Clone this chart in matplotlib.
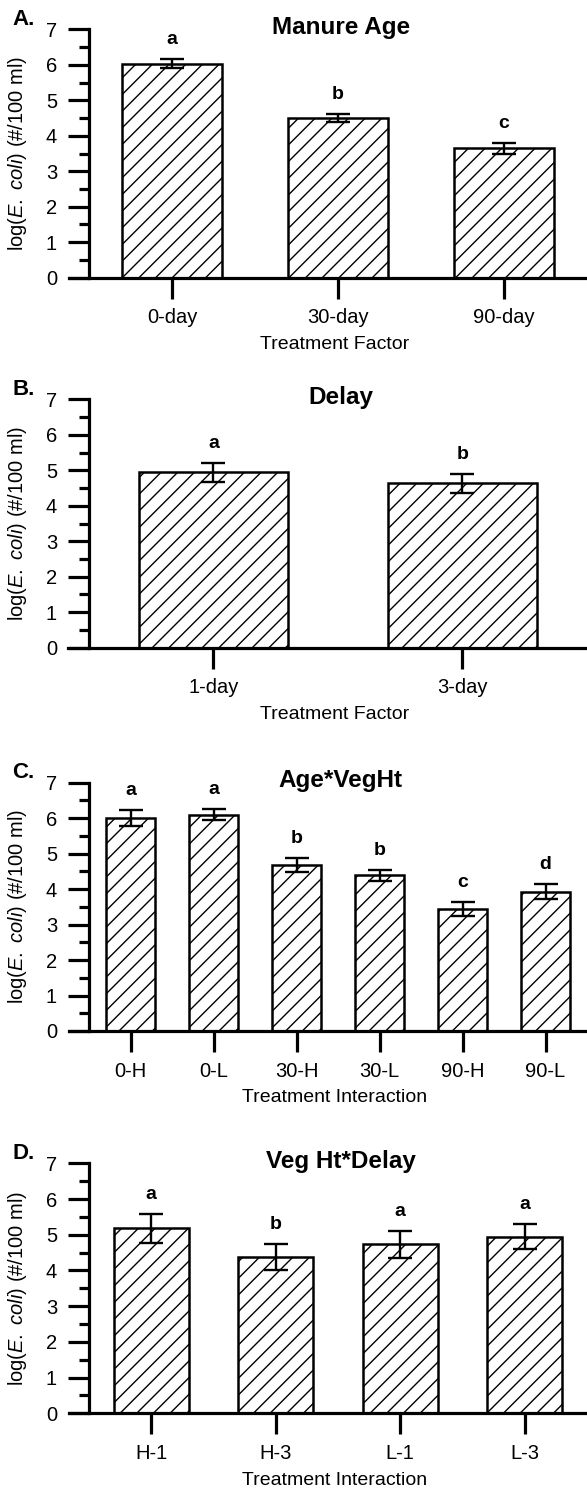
import matplotlib.pyplot as plt
from matplotlib.ticker import MultipleLocator

plt.rcParams['font.family'] = ['Liberation Sans', 'DejaVu Sans']
plt.rcParams['mathtext.fontset'] = 'custom'
plt.rcParams['mathtext.rm'] = 'Liberation Sans'
plt.rcParams['mathtext.it'] = 'Liberation Sans:italic'
plt.rcParams['hatch.linewidth'] = 1.0

# A. Manure Age
age_cats = ['0-day', '30-day', '90-day']
age_means = [6.03, 4.50, 3.65]
age_err = [0.13, 0.12, 0.15]
age_letters = ['a', 'b', 'c']

# B. Delay
delay_cats = ['1-day', '3-day']
delay_means = [4.94, 4.63]
delay_err = [0.27, 0.26]
delay_letters = ['a', 'b']

# C. Age*VegHt
agev_cats = ['0-H', '0-L', '30-H', '30-L', '90-H', '90-L']
agev_means = [6.00, 6.10, 4.68, 4.39, 3.43, 3.93]
agev_err = [0.22, 0.15, 0.19, 0.15, 0.20, 0.21]
agev_letters = ['a', 'a', 'b', 'b', 'c', 'd']

# D. Veg Ht*Delay
vegd_cats = ['H-1', 'H-3', 'L-1', 'L-3']
vegd_means = [5.18, 4.38, 4.73, 4.94]
vegd_err = [0.40, 0.36, 0.37, 0.35]
vegd_letters = ['a', 'b', 'a', 'a']

W, H = 587, 1488
fig = plt.figure(figsize=(W / 100, H / 100), dpi=100)

# pixel layout (top, bottom of the y axis) for each panel
panels = [
    ('A.', 'Manure Age', 'Treatment Factor', age_cats, age_means, age_err, age_letters, 29.3, 277.7),
    ('B.', 'Delay', 'Treatment Factor', delay_cats, delay_means, delay_err, delay_letters, 399.3, 647.7),
    ('C.', 'Age*VegHt', 'Treatment Interaction', agev_cats, agev_means, agev_err, agev_letters, 782.7, 1031.0),
    ('D.', 'Veg Ht*Delay', 'Treatment Interaction', vegd_cats, vegd_means, vegd_err, vegd_letters, 1163.3, 1413.3),
]

x_left, x_axis, x_right = 68.5, 89.0, 587.0
lw = 2.3

for tag, title, xlab, cats, means, errs, letters, top, bottom in panels:
    ax = fig.add_axes([x_left / W, 1 - bottom / H, (x_right - x_left) / W, (bottom - top) / H])
    n = len(cats)
    step = (x_right - x_axis) / n
    xs = list(range(n))
    ax.bar(xs, means, width=0.6, color='white', edgecolor='black', linewidth=1.8, hatch='//', zorder=2)
    ax.errorbar(xs, means, yerr=errs, fmt='none', ecolor='black', elinewidth=1.7,
                capsize=8.5, capthick=1.7, zorder=3)
    for x, m, e, t in zip(xs, means, errs, letters):
        ax.annotate(t, (x, m + e), xytext=(0, 14), textcoords='offset points',
                    ha='center', va='center', fontsize=14, fontweight='bold')

    ax.set_xlim(-0.5 - (x_axis - x_left) / step, n - 0.5)
    ax.set_ylim(0, 7)
    ax.spines['top'].set_visible(False)
    ax.spines['right'].set_visible(False)
    ax.spines['left'].set_position(('data', -0.5))
    ax.spines['left'].set_linewidth(lw)
    ax.spines['bottom'].set_linewidth(lw)

    ax.set_xticks(xs)
    ax.set_xticklabels(cats, fontsize=14.5)
    ax.yaxis.set_major_locator(MultipleLocator(1))
    ax.yaxis.set_minor_locator(MultipleLocator(0.5))
    ax.tick_params(axis='x', direction='out', length=15, width=lw, pad=7)
    ax.tick_params(axis='y', which='major', direction='out', length=15, width=lw, pad=8, labelsize=14.5)
    ax.tick_params(axis='y', which='minor', direction='out', length=7, width=lw)

    ax.set_ylabel(r'log($\mathit{E.\ coli}$) (#/100 ml)', fontsize=14.5)
    ax.yaxis.set_label_coords((29 - x_left) / (x_right - x_left), 0.5)
    ax.set_xlabel(xlab, fontsize=14)
    ax.xaxis.set_label_coords(0.514, -67 / (bottom - top))
    ax.xaxis.label.set_va('center')

    ax.text(0.525, 7.05, title, transform=ax.get_yaxis_transform(), ha='center', va='center',
            fontsize=17.5, fontweight='bold')
    fig.text(12 / W, 1 - (top - 10) / H, tag, ha='left', va='center', fontsize=16, fontweight='bold')

fig.savefig('out.png', dpi=100)
